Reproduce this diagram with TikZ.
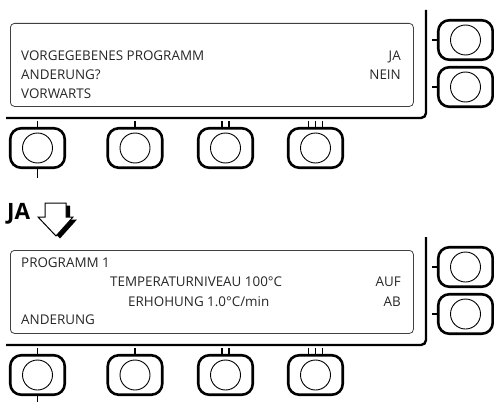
\documentclass[tikz,border=0pt]{standalone}
\usepackage{fontspec}
\setmainfont{Open Sans}
\begin{document}
\begin{tikzpicture}[x=1pt,y=-1pt,
  btn/.style={draw, line width=2.6pt, rounded corners=11pt, minimum width=54.5pt, minimum height=39.5pt, inner sep=0pt},
  knob/.style={draw, line width=0.9pt, circle, minimum size=30pt, inner sep=0pt},
  frameline/.style={line width=2.4pt, rounded corners=5pt},
  disp/.style={draw=black!75, line width=0.8pt, rounded corners=4pt, inner sep=0pt},
  tickline/.style={line width=1.9pt},
  txt/.style={font=\fontsize{13.4}{15}\selectfont, text=black!85, inner sep=0pt, anchor=base west},
  txtr/.style={txt, anchor=base east}]
\useasboundingbox (0,0) rectangle (494,401);

\foreach \p/\o in {1/0,2/227}{
  % frame
  \coordinate (fa\p) at (6,118+\o);
  \coordinate (fb\p) at (426,118+\o);
  \coordinate (fc\p) at (426,{\p==1 ? 10 : 237});
  \draw[frameline] (fa\p) -- (fb\p) -- (fc\p);
  % display
  \node[disp, minimum width=403pt, minimum height=83pt, anchor=north west] (d\p) at (10,23+\o) {};
  % right buttons
  \node[btn] (r\p a) at (465.5,40+\o) {};
  \node[knob] (kr\p a) at (r\p a) {};
  \node[btn] (r\p b) at (465.5,87+\o) {};
  \node[knob] (kr\p b) at (r\p b) {};
  \draw[tickline] (r\p a.west) -- ++(-5,0);
  \draw[tickline] (r\p b.west) -- ++(-5,0);
  % bottom buttons
  \foreach \i/\x in {1/37.5,2/135,3/225.5,4/315.5}{
    \node[btn] (b\p\i) at (\x,148+\o) {};
    \node[knob] (kb\p\i) at (b\p\i) {};
  }
  \draw[tickline] (b\p1.north) -- ++(0,-6);
  \draw[tickline] (b\p1.south) -- ++(0,{\p==1 ? 9 : 8});
  \draw[tickline] (b\p2.north) -- ++(0,-6);
  \draw[tickline] ([xshift=-3.5pt]b\p3.north) -- ++(0,-6);
  \draw[tickline] ([xshift=3.5pt]b\p3.north) -- ++(0,-6);
  \draw[tickline] ([xshift=-7pt]b\p4.north) -- ++(0,-6);
  \draw[tickline] (b\p4.north) -- ++(0,-6);
  \draw[tickline] ([xshift=7pt]b\p4.north) -- ++(0,-6);
}

% texts, panel 1
\node[txt] (t1) at (21,61) {VORGEGEBENES PROGRAMM};
\node[txt] (t2) at (21,80) {ANDERUNG?};
\node[txt] (t3) at (21,98) {VORWARTS};
\node[txtr] (t4) at (401,61) {JA};
\node[txtr] (t5) at (401,80) {NEIN};

% texts, panel 2
\node[txt] (u1) at (21,267) {PROGRAMM 1};
\node[txt] (u2) at (110,286) {TEMPERATURNIVEAU 100°C};
\node[txt] (u3) at (128,306) {ERHOHUNG 1.0°C/min};
\node[txt] (u4) at (21,324) {ANDERUNG};
\node[txtr] (u5) at (401,286) {AUF};
\node[txtr] (u6) at (401,306) {AB};

% JA arrow
\node[font=\bfseries\fontsize{22.5}{24}\selectfont, inner sep=0pt, anchor=base west] (ja) at (7,219) {JA};
\fill[black, shift={(4,2.5)}] (45,203) -- (66,203) -- (66,217) -- (73,217) -- (56,236) -- (38,217) -- (45,217) -- cycle;
\filldraw[fill=white, draw=black, line width=1pt] (45,203) -- (66,203) -- (66,217) -- (73,217) -- (56,236) -- (38,217) -- (45,217) -- cycle;
\end{tikzpicture}
\end{document}
